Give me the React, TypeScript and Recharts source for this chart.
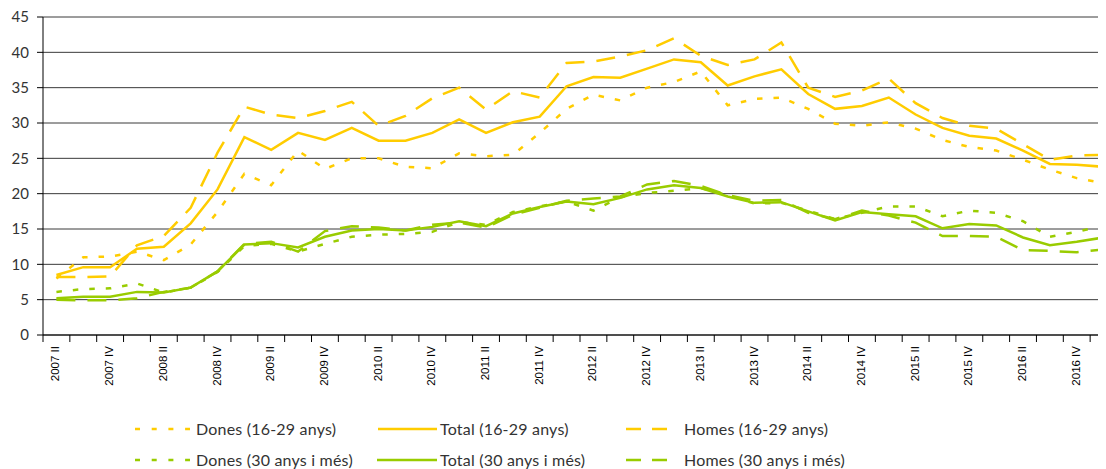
import React from 'react';
import { LineChart, Line, XAxis, YAxis, CartesianGrid } from 'recharts';

const quarters = [
  '2007 II', '2007 III', '2007 IV',
  '2008 I', '2008 II', '2008 III', '2008 IV',
  '2009 I', '2009 II', '2009 III', '2009 IV',
  '2010 I', '2010 II', '2010 III', '2010 IV',
  '2011 I', '2011 II', '2011 III', '2011 IV',
  '2012 I', '2012 II', '2012 III', '2012 IV',
  '2013 I', '2013 II', '2013 III', '2013 IV',
  '2014 I', '2014 II', '2014 III', '2014 IV',
  '2015 I', '2015 II', '2015 III', '2015 IV',
  '2016 I', '2016 II', '2016 III', '2016 IV',
  '2017 I',
];

const dones1629 = [
  8.0, 11.0, 11.1, 11.8, 10.6, 12.8, 17.4, 22.8, 21.2, 26.1,
  23.5, 25.0, 25.0, 23.8, 23.6, 25.7, 25.3, 25.5, 28.6, 32.0,
  34.0, 33.2, 35.0, 35.8, 37.3, 32.5, 33.4, 33.6, 32.0, 29.9,
  29.6, 30.1, 29.2, 27.6, 26.6, 26.1, 24.8, 23.4, 22.2, 21.5,
];
const total1629 = [
  8.5, 9.6, 9.6, 12.2, 12.5, 15.8, 20.6, 28.0, 26.2, 28.6,
  27.6, 29.3, 27.5, 27.5, 28.6, 30.5, 28.6, 30.1, 30.9, 35.2,
  36.5, 36.4, 37.7, 39.0, 38.6, 35.3, 36.6, 37.6, 34.1, 32.0,
  32.4, 33.6, 31.2, 29.3, 28.2, 27.8, 26.1, 24.2, 24.1, 23.8,
];
const homes1629 = [
  8.2, 8.2, 8.3, 12.7, 14.0, 18.0, 25.8, 32.3, 31.2, 30.7,
  31.7, 33.0, 29.6, 31.0, 33.5, 35.0, 31.9, 34.5, 33.6, 38.5,
  38.7, 39.4, 40.3, 42.0, 39.5, 38.2, 39.0, 41.4, 35.0, 33.7,
  34.6, 36.3, 32.8, 30.7, 29.6, 29.2, 27.0, 24.8, 25.4, 25.5,
];
const dones30 = [
  6.1, 6.5, 6.6, 7.3, 6.0, 6.7, 8.9, 12.6, 12.9, 11.8,
  12.9, 13.9, 14.2, 14.3, 14.6, 16.0, 15.6, 17.4, 18.2, 18.9,
  17.6, 19.5, 20.1, 20.4, 20.8, 19.8, 18.6, 18.7, 17.6, 16.4,
  17.3, 18.2, 18.2, 16.8, 17.6, 17.3, 16.1, 13.9, 14.6, 15.5,
];
const total30 = [
  5.2, 5.4, 5.4, 6.1, 6.0, 6.7, 9.0, 12.8, 13.0, 12.4,
  13.9, 14.8, 15.0, 14.8, 15.3, 16.1, 15.4, 17.2, 18.1, 18.9,
  18.5, 19.4, 20.6, 21.2, 20.8, 19.6, 18.7, 18.8, 17.5, 16.2,
  17.4, 17.1, 16.8, 15.1, 15.7, 15.5, 13.8, 12.7, 13.2, 13.8,
];
const homes30 = [
  5.0, 4.9, 4.9, 5.2, 6.1, 6.7, 9.0, 12.9, 13.2, 11.8,
  14.7, 15.4, 15.2, 14.8, 15.6, 15.9, 15.2, 17.0, 18.0, 19.0,
  19.3, 19.6, 21.3, 21.8, 21.1, 19.8, 19.0, 19.1, 17.3, 16.4,
  17.6, 16.9, 15.9, 14.0, 14.0, 13.9, 12.0, 11.9, 11.7, 12.1,
];

const yTicks = [0, 5, 10, 15, 20, 25, 30, 35, 40, 45];

const YELLOW = '#FFCC00';
const GREEN = '#99CC00';
const DOTTED = '5.5 11';
const DASHED = '19 12';

const Y_W = 35;
const PLOT_W = 1074;
const CHART_W = Y_W + PLOT_W;
const BAND = PLOT_W / quarters.length;

const data = quarters.map((q, i) => ({
  q,
  d1: dones1629[i],
  t1: total1629[i],
  h1: homes1629[i],
  d2: dones30[i],
  t2: total30[i],
  h2: homes30[i],
}));

// labels sit in the middle of each quarter, tick marks on the quarter boundaries
const QuarterTick = (props: any) => {
  const { x, y, payload, index } = props;
  const left = x - BAND / 2;
  const i = payload?.index ?? index;
  return (
    <g>
      <line x1={left} y1={y} x2={left} y2={y + 7} stroke="#000" />
      {i % 2 === 0 && (
        <text
          x={x - 1}
          y={y + 11}
          transform={`rotate(-90, ${x - 1}, ${y + 11})`}
          textAnchor="end"
          dominantBaseline="central"
          fontSize={11.5}
          fill="#000"
          fontFamily="'Liberation Sans', Arial, sans-serif"
        >
          {payload.value}
        </text>
      )}
    </g>
  );
};

const legendRows = [
  [
    { label: 'Dones (16-29 anys)', color: YELLOW, dash: '5 11.7', x: 127, w: 55, tx: 188 },
    { label: 'Total (16-29 anys)', color: YELLOW, dash: undefined, x: 370, w: 59, tx: 432 },
    { label: 'Homes (16-29 anys)', color: YELLOW, dash: '15 11', x: 618, w: 52, tx: 676 },
  ],
  [
    { label: 'Dones (30 anys i més)', color: GREEN, dash: '5 11.7', x: 127, w: 55, tx: 188 },
    { label: 'Total (30 anys i més)', color: GREEN, dash: undefined, x: 369, w: 60, tx: 432 },
    { label: 'Homes (30 anys i més)', color: GREEN, dash: '15 11', x: 618, w: 52, tx: 676 },
  ],
];

const Legend = () => (
  <>
    {legendRows.map((row, r) =>
      row.map((item) => (
        <div
          key={item.label}
          style={{
            position: 'absolute',
            left: item.x,
            top: 411 + r * 31,
            height: 20,
            width: 300,
          }}
        >
          <svg width={item.w} height={20} style={{ position: 'absolute', left: 0, top: 0 }}>
            <line
              x1={0}
              y1={10}
              x2={item.w}
              y2={10}
              stroke={item.color}
              strokeWidth={2.5}
              strokeDasharray={item.dash}
            />
          </svg>
          <span
            style={{
              position: 'absolute',
              left: item.tx - item.x,
              top: 0,
              lineHeight: '20px',
              fontSize: 16,
              letterSpacing: 0.2,
              color: '#333',
              whiteSpace: 'nowrap',
            }}
          >
            {item.label}
          </span>
        </div>
      ))
    )}
  </>
);

export default function App() {
  return (
    <div
      style={{
        position: 'relative',
        width: 1098,
        height: 461,
        overflow: 'hidden',
        fontFamily: "Lato, 'Open Sans', sans-serif",
        background: '#fff',
      }}
    >
      <LineChart
        width={CHART_W}
        height={390}
        data={data}
        margin={{ top: 9, right: 0, bottom: 0, left: 0 }}
      >
        <CartesianGrid vertical={false} stroke="#3a3a3a" strokeWidth={1} />
        <XAxis
          dataKey="q"
          scale="band"
          interval={0}
          tick={<QuarterTick />}
          tickLine={false}
          tickSize={0}
          tickMargin={0}
          axisLine={{ stroke: '#000' }}
          height={63}
        />
        <YAxis
          domain={[0, 45]}
          ticks={yTicks}
          interval={0}
          width={Y_W}
          tickSize={6}
          tickMargin={8}
          tickLine={{ stroke: '#000' }}
          axisLine={{ stroke: '#000' }}
          tick={{ fill: '#333', fontSize: 15, fontFamily: 'Lato, sans-serif' }}
        />
        <Line dataKey="d1" stroke={YELLOW} strokeWidth={2.5} strokeDasharray={DOTTED} dot={false} isAnimationActive={false} />
        <Line dataKey="t1" stroke={YELLOW} strokeWidth={2.5} dot={false} isAnimationActive={false} />
        <Line dataKey="h1" stroke={YELLOW} strokeWidth={2.5} strokeDasharray={DASHED} dot={false} isAnimationActive={false} />
        <Line dataKey="d2" stroke={GREEN} strokeWidth={2.5} strokeDasharray={DOTTED} dot={false} isAnimationActive={false} />
        <Line dataKey="t2" stroke={GREEN} strokeWidth={2.5} dot={false} isAnimationActive={false} />
        <Line dataKey="h2" stroke={GREEN} strokeWidth={2.5} strokeDasharray={DASHED} dot={false} isAnimationActive={false} />
      </LineChart>
      <Legend />
    </div>
  );
}
